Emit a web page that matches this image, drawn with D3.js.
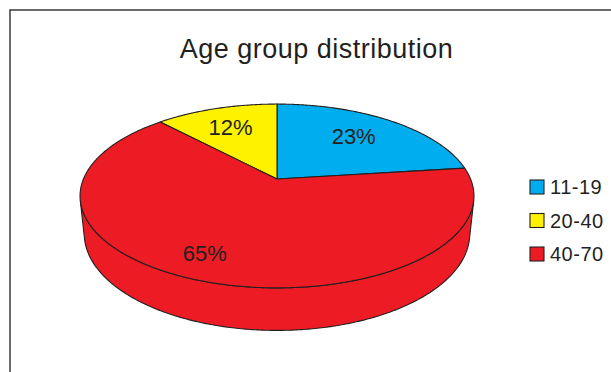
<!DOCTYPE html>
<html>
<head>
<meta charset="utf-8">
<script src="https://cdn.jsdelivr.net/npm/d3@7"></script>
<style>
  html, body { margin: 0; padding: 0; background: #fff; }
  svg { display: block; font-family: "Liberation Sans", Arial, sans-serif; }
</style>
</head>
<body>
<svg id="chart" width="611" height="372"></svg>
<script>
// Age group shares (percent)
const categories = ["11-19", "20-40", "40-70"];
const values = [23, 12, 65];
const sliceLabels = ["23%", "12%", "65%"];
const colors = ["#00AEEF", "#FFF200", "#ED1C24"];
const titleText = "Age group distribution";

const W = 611, H = 372;
const ink = "#231F20";
const svg = d3.select("#chart");

// frame around the chart area
svg.append("rect")
  .attr("x", 10).attr("y", 10)
  .attr("width", 640).attr("height", 420)
  .attr("fill", "none")
  .attr("stroke", "#3a3a3a")
  .attr("stroke-width", 1.5);

// title
svg.append("text")
  .attr("x", 316.5).attr("y", 58)
  .attr("text-anchor", "middle")
  .attr("font-size", 27)
  .attr("letter-spacing", 0.5)
  .attr("fill", ink)
  .text(titleText);

// ---- 3D pie: a unit-radius disc seen in perspective ----
const elev = 27.3 * Math.PI / 180;
const sE = Math.sin(elev), cE = Math.cos(elev);
const camDist = 4.81;      // camera distance, in disc radii
const focal = 931;         // projection scale, px
const ox = 277, oy = 179;  // screen position of the disc centre
const thick = 0.22;        // disc thickness, in radii

// world: x right, y away from viewer, z up
function project(x, y, z) {
  const qy = y + camDist * cE;
  const qz = z - camDist * sE;
  const depth = qy * cE - qz * sE;
  const up = qy * sE + qz * cE;
  return [ox + focal * x / depth, oy - focal * up / depth];
}
// angle measured clockwise from the far side of the disc (12 o'clock)
function rim(a, r, z) {
  return project(r * Math.sin(a), r * Math.cos(a), z);
}
function arcPoints(a0, a1, r, z) {
  const n = Math.max(2, Math.ceil(Math.abs(a1 - a0) / 0.01));
  return d3.range(n + 1).map(i => rim(a0 + (a1 - a0) * i / n, r, z));
}

const total = d3.sum(values);
const start = values[0] / total * 2 * Math.PI;
const pie = d3.pie().sort(null).value(d => d)
  .startAngle(start)
  .endAngle(start - 2 * Math.PI);
const arcs = pie(values);

const line = d3.line();

// visible stretch of the outer wall: between the silhouette generators
const tangentY = -1 / (camDist * cE);
const visA = Math.acos(tangentY);              // ~103.5 deg
const visB = 2 * Math.PI - visA;               // ~256.5 deg

const wallG = svg.append("g");
arcs.forEach((d, i) => {
  const lo = Math.min(d.startAngle, d.endAngle);
  const hi = Math.max(d.startAngle, d.endAngle);
  [-1, 0, 1].forEach(k => {
    const a0 = Math.max(lo + 2 * Math.PI * k, visA);
    const a1 = Math.min(hi + 2 * Math.PI * k, visB);
    if (a1 <= a0) return;
    const top = arcPoints(a0, a1, 1, 0);
    const bottom = arcPoints(a1, a0, 1, -thick);
    wallG.append("path")
      .attr("d", line(top.concat(bottom)) + "Z")
      .attr("fill", colors[i])
      .attr("stroke", ink)
      .attr("stroke-width", 1.1)
      .attr("stroke-linejoin", "round");
  });
});

// top faces
const topG = svg.append("g");
arcs.forEach((d, i) => {
  const pts = [project(0, 0, 0)].concat(arcPoints(d.startAngle, d.endAngle, 1, 0));
  topG.append("path")
    .attr("d", line(pts) + "Z")
    .attr("fill", colors[i])
    .attr("stroke", ink)
    .attr("stroke-width", 1.1)
    .attr("stroke-linejoin", "round");
});

// percentage labels on the top face
const labelRadius = 0.7;
const labelNudge = [[-5, 0], [-2, 0], [-20, 8]];
arcs.forEach((d, i) => {
  const mid = (d.startAngle + d.endAngle) / 2;
  const p = rim(mid, labelRadius, 0);
  svg.append("text")
    .attr("x", p[0] + labelNudge[i][0])
    .attr("y", p[1] + labelNudge[i][1])
    .attr("dy", "0.35em")
    .attr("text-anchor", "middle")
    .attr("font-size", 22)
    .attr("fill", ink)
    .text(sliceLabels[i]);
});

// legend
const legendY = d3.scalePoint().domain(categories).range([187, 254]);
const legend = svg.append("g");
categories.forEach((cat, i) => {
  const y = legendY(cat);
  legend.append("rect")
    .attr("x", 530).attr("y", y - 7)
    .attr("width", 14).attr("height", 14)
    .attr("fill", colors[i])
    .attr("stroke", ink)
    .attr("stroke-width", 1.1);
  legend.append("text")
    .attr("x", 550).attr("y", y)
    .attr("dy", "0.35em")
    .attr("font-size", 20)
    .attr("letter-spacing", 0.5)
    .attr("fill", ink)
    .text(cat);
});
</script>
</body>
</html>
